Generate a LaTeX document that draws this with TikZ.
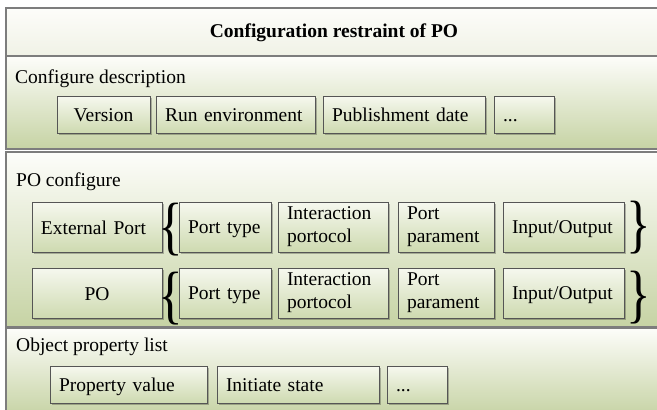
\documentclass[tikz,border=0pt]{standalone}
\usepackage{fontspec}
\setmainfont{Liberation Serif}
\usetikzlibrary{shadows}
\newcommand\boxstrut{\vrule width 0pt height 18pt depth 4pt\relax}
\definecolor{secbot}{RGB}{198,211,164}
\definecolor{sectop}{RGB}{253,253,250}
\definecolor{boxtop}{RGB}{246,248,239}
\definecolor{boxbot}{RGB}{206,218,176}
\definecolor{boxline}{RGB}{85,85,85}
\definecolor{secline}{RGB}{125,125,125}
\tikzset{
  sect/.style={draw=secline, line width=1.2pt, top color=sectop, bottom color=secbot},
  titlesect/.style={draw=secline, line width=1.2pt, top color=sectop, bottom color={rgb,255:red,240;green,242;blue,230}},
  box/.style={draw=boxline, line width=0.7pt, top color=boxtop, bottom color=boxbot,
    inner xsep=9pt, inner ysep=0pt, align=left,
    drop shadow={shadow xshift=1.6pt, shadow yshift=-1.6pt, fill=black, opacity=0.25},
    font=\fontsize{19.5}{23}\selectfont},
  cbox/.style={box, align=center},
  lbl/.style={anchor=west, inner sep=0pt, font=\fontsize{19.5}{23}\selectfont},
  brace/.style={anchor=base west, inner sep=0pt, font=\fontsize{64}{64}\selectfont}
}
\begin{document}
\begin{tikzpicture}[x=1pt,y=-1pt]
\useasboundingbox (0,0) rectangle (657,410);
% sections
\path[titlesect] (6,8) rectangle (665,56);
\path[sect] (6,56) rectangle (665,149);
\path[sect] (6,152) rectangle (665,327);
\path[sect] (6,328) rectangle (665,416);
% title
\node[inner sep=0pt, font=\fontsize{19.5}{23}\selectfont\bfseries] (title) at (334,33) {Configuration restraint of PO};
% section 1
\node[lbl] (l1) at (15,79) {Configure description};
\node[cbox, minimum width=93pt, text width=75pt, minimum height=37pt] (ver) at (103.5,114.5) {\boxstrut Version};
\node[box, minimum width=159pt, text width=141pt, minimum height=37pt] (run) at (235.5,114.5) {\boxstrut Run environment};
\node[box, minimum width=162pt, text width=144pt, minimum height=37pt] (pub) at (404,114.5) {\boxstrut Publishment date};
\node[box, minimum width=60pt, text width=42pt, minimum height=37pt] (d1) at (524,114.5) {\boxstrut ...};
% section 2
\node[lbl] (l2) at (16,182) {PO configure};
\node[box, minimum width=130pt, text width=112pt, minimum height=50pt] (ext) at (97,227) {\boxstrut External Port};
\node[box, minimum width=92pt, text width=74pt, minimum height=50pt] (pt1) at (225,227) {\boxstrut Port type};
\node[box, minimum width=110pt, text width=92pt, minimum height=50pt] (ip1) at (333,227) {Interaction\\portocol};
\node[box, minimum width=96pt, text width=78pt, minimum height=50pt] (pp1) at (446,227) {Port\\parament};
\node[box, minimum width=121pt, text width=103pt, minimum height=50pt] (io1) at (563.5,227) {\boxstrut Input/Output};
\node[cbox, minimum width=130pt, text width=112pt, minimum height=50pt] (po) at (97,293) {\boxstrut PO};
\node[box, minimum width=92pt, text width=74pt, minimum height=50pt] (pt2) at (225,293) {\boxstrut Port type};
\node[box, minimum width=110pt, text width=92pt, minimum height=50pt] (ip2) at (333,293) {Interaction\\portocol};
\node[box, minimum width=96pt, text width=78pt, minimum height=50pt] (pp2) at (446,293) {Port\\parament};
\node[box, minimum width=121pt, text width=103pt, minimum height=50pt] (io2) at (563.5,293) {\boxstrut Input/Output};
% braces
\node[brace] (lb1) at (158,247) {\scalebox{0.8}[1]{\{}};
\node[brace] (lb2) at (158,316) {\scalebox{0.8}[1]{\{}};
\node[brace] (rb1) at (626,245) {\scalebox{0.8}[1]{\}}};
\node[brace] (rb2) at (626,315) {\scalebox{0.8}[1]{\}}};
% section 3
\node[lbl] (l3) at (16,347) {Object property list};
\node[box, minimum width=157pt, text width=139pt, minimum height=37pt] (prop) at (128.5,384.5) {\boxstrut Property value};
\node[box, minimum width=162pt, text width=144pt, minimum height=37pt] (init) at (298,384.5) {\boxstrut Initiate state};
\node[box, minimum width=60pt, text width=42pt, minimum height=37pt] (d2) at (417,384.5) {\boxstrut ...};
\end{tikzpicture}
\end{document}
